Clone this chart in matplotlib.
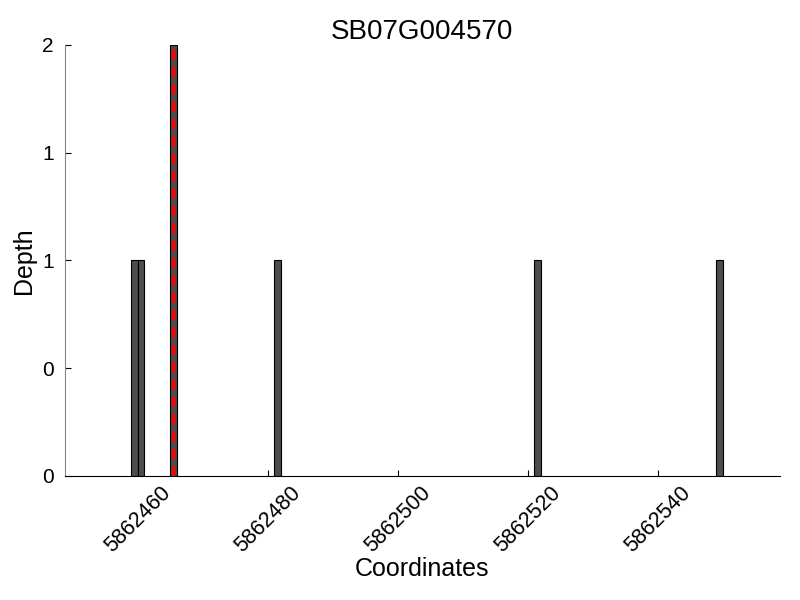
import matplotlib
matplotlib.use('Agg')
from matplotlib import pyplot as plt
from matplotlib.ticker import FormatStrFormatter

plt.rcParams['font.family'] = ['Liberation Sans', 'DejaVu Sans']

title = 'SB07G004570'
positions = [5862459, 5862460, 5862465, 5862481, 5862521, 5862549]
depths = [1, 1, 2, 1, 1, 1]
highlight = 5862465
xticks = [5862460, 5862480, 5862500, 5862520, 5862540]
yticks = [0, 0.5, 1, 1.5, 2]

fig = plt.figure(figsize=(8, 6), dpi=100)
ax = fig.add_axes([0.081, 0.207, 0.894, 0.718])

ax.bar(positions, depths, width=1, align='edge', color='#4d4d4d',
       edgecolor='black', linewidth=0.8)
ax.axvline(highlight + 0.5, ymin=0, ymax=1, color='red', linestyle='--',
           linewidth=2.5, dashes=(3, 2))

ax.set_xlim(5862448.8, 5862558.8)
ax.set_ylim(0, 2)
ax.set_xticks(xticks)
ax.set_xticklabels([str(t) for t in xticks], rotation=45, ha='center',
                   fontsize=15.5)
ax.set_yticks(yticks)
ax.yaxis.set_major_formatter(FormatStrFormatter('%d'))
ax.tick_params(axis='both', direction='in', length=4)
ax.tick_params(axis='y', pad=8, labelsize=15)
ax.tick_params(axis='x', pad=5)

ax.spines['top'].set_visible(False)
ax.spines['right'].set_visible(False)
ax.spines['left'].set_color('#888888')

ax.set_title(title, fontsize=20, pad=4)
ax.set_xlabel('Coordinates', fontsize=18, labelpad=0)
ax.set_ylabel('Depth', fontsize=18)

fig.savefig('out.png', dpi=100)
